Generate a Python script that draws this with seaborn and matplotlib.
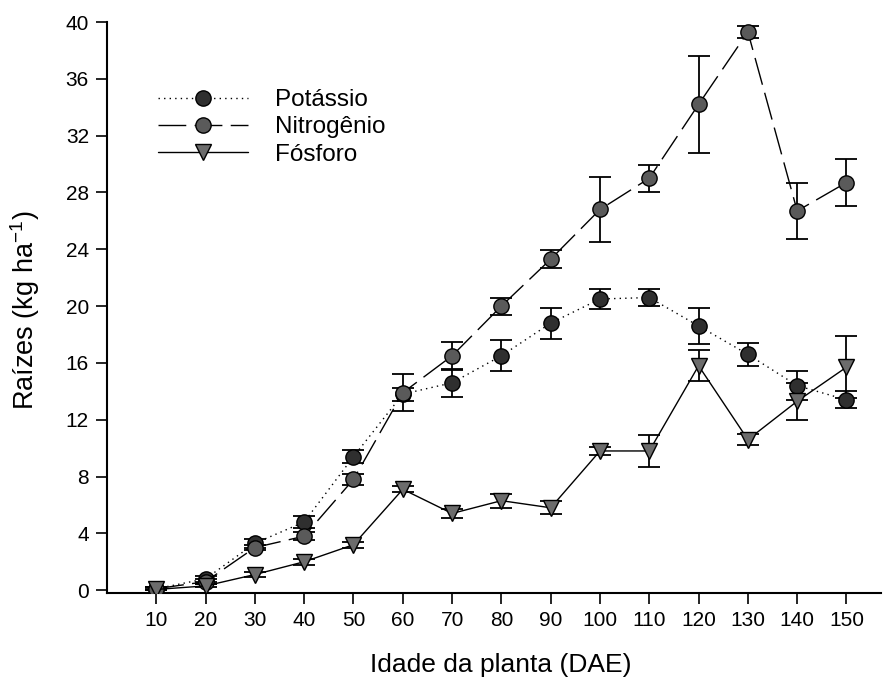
import numpy as np
import pandas as pd
import matplotlib
matplotlib.use("Agg")
import matplotlib.pyplot as plt
import seaborn as sns

# Days after emergence
dae = [10, 20, 30, 40, 50, 60, 70, 80, 90, 100, 110, 120, 130, 140, 150]

# Root nutrient accumulation (kg ha-1) and standard errors
potassio = [0.1, 0.8, 3.3, 4.8, 9.4, 13.8, 14.6, 16.5, 18.8, 20.5, 20.6, 18.6, 16.6, 14.4, 13.4]
potassio_se = [0.1, 0.2, 0.3, 0.4, 0.45, 0.45, 1.0, 1.1, 1.1, 0.7, 0.6, 1.3, 0.8, 1.0, 0.6]

nitrogenio = [0.1, 0.6, 3.0, 3.8, 7.8, 13.9, 16.5, 20.0, 23.3, 26.8, 29.0, 34.2, 39.3, 26.7, 28.7]
nitrogenio_se = [0.1, 0.2, 0.2, 0.3, 0.4, 1.3, 1.0, 0.6, 0.65, 2.3, 0.95, 3.4, 0.45, 1.95, 1.65]

fosforo = [0.05, 0.3, 1.1, 2.0, 3.2, 7.1, 5.4, 6.3, 5.8, 9.8, 9.8, 15.8, 10.6, 13.3, 15.7]
fosforo_se = [0.05, 0.1, 0.15, 0.2, 0.2, 0.2, 0.3, 0.5, 0.45, 0.3, 1.1, 1.1, 0.4, 1.3, 2.2]

series_names = ["Potássio", "Nitrogênio", "Fósforo"]
x_ticks = list(range(10, 151, 10))
y_ticks = list(range(0, 41, 4))

sns.set_theme(style="ticks")
plt.rcParams["font.family"] = ["Liberation Sans", "DejaVu Sans"]
plt.rcParams["mathtext.fontset"] = "custom"
plt.rcParams["mathtext.rm"] = "Liberation Sans"
plt.rcParams["mathtext.default"] = "regular"
plt.rcParams["text.color"] = "black"
plt.rcParams["axes.labelcolor"] = "black"

fig = plt.figure(figsize=(8.85, 6.86), dpi=100)
ax = fig.add_axes([107 / 885, 1 - 593 / 686, (881 - 107) / 885, (593 - 22) / 686])

styles = {
    "Potássio": dict(color="black", ls=(0, (1, 3)), marker="o", mfc="#2f2f2f", ms=11),
    "Nitrogênio": dict(color="black", ls=(0, (20, 6)), marker="o", mfc="#5a5a5a", ms=11),
    "Fósforo": dict(color="black", ls="-", marker="v", mfc="#6c6c6c", ms=12),
}

values = {"Potássio": (potassio, potassio_se),
          "Nitrogênio": (nitrogenio, nitrogenio_se),
          "Fósforo": (fosforo, fosforo_se)}

for i, name in enumerate(series_names):
    y, se = values[name]
    df = pd.DataFrame({"DAE": dae, "valor": y})
    st = styles[name]
    ax.errorbar(dae, y, yerr=se, fmt="none", ecolor="black", elinewidth=1.3,
                capsize=8, capthick=1.3, zorder=2 + i * 0.1)
    sns.lineplot(data=df, x="DAE", y="valor", ax=ax, color=st["color"],
                 linestyle=st["ls"], linewidth=1.0, marker=st["marker"],
                 markersize=st["ms"], markerfacecolor=st["mfc"],
                 markeredgecolor="black", markeredgewidth=1.0,
                 label=name, zorder=3 + i * 0.1)

ax.set_xlim(0, 157)
ax.set_ylim(-0.2, 40)
ax.set_xticks(x_ticks)
ax.set_yticks(y_ticks)
ax.tick_params(axis="both", direction="out", length=8, width=1.2,
               labelsize=15, color="black", labelcolor="black", pad=5)
for side in ["top", "right"]:
    ax.spines[side].set_visible(False)
for side in ["left", "bottom"]:
    ax.spines[side].set_linewidth(1.5)
    ax.spines[side].set_color("black")

ax.set_xlabel("Idade da planta (DAE)", fontsize=19, color="black")
ax.set_ylabel("Raízes (kg ha$^{-1}$)", fontsize=19.5, color="black")
ax.xaxis.set_label_coords(0.509, -0.105)
ax.yaxis.set_label_coords(-0.084, 0.495)

leg = ax.legend(loc="upper left", bbox_to_anchor=(158 / 885, 1 - 89 / 686),
                bbox_transform=fig.transFigure, frameon=False, fontsize=17.5,
                handlelength=3.7, handletextpad=1.1, labelspacing=0.22,
                borderpad=0, borderaxespad=0, numpoints=1, labelcolor="black")

fig.savefig("out.png", dpi=100)
